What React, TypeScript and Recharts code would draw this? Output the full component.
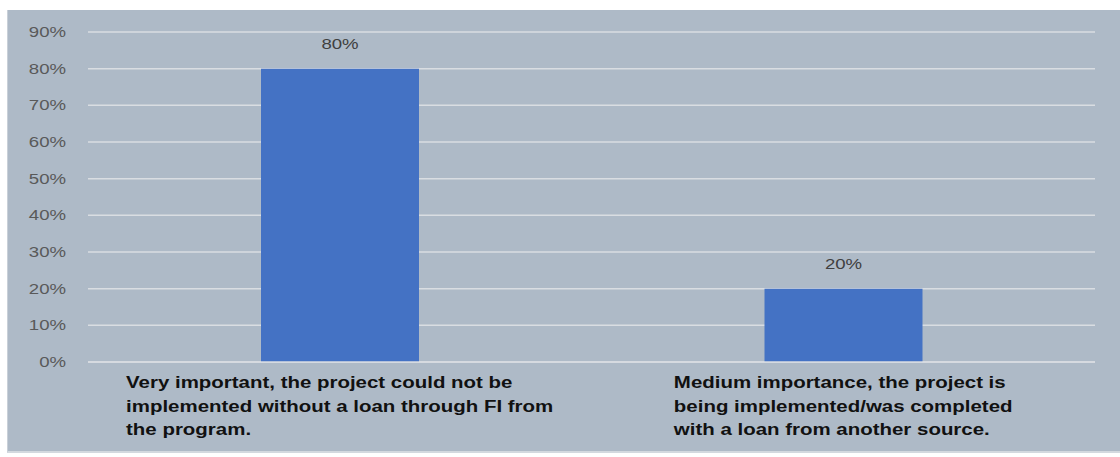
import React from 'react';
import { BarChart, Bar, XAxis, YAxis, CartesianGrid, LabelList } from 'recharts';

const categories: string[] = [
  'Very important, the project could not be|implemented without a loan through FI from|the program.',
  'Medium importance, the project is|being implemented/was completed|with a loan from another source.',
];
const shares: number[] = [0.8, 0.2];
const yTicks: number[] = [0, 0.1, 0.2, 0.3, 0.4, 0.5, 0.6, 0.7, 0.8, 0.9];

const data = categories.map((c, i) => ({ name: c, value: shares[i] }));

const FONT_FAMILY = '"Liberation Sans", Arial, sans-serif';
const LABEL_FONT = `bold 16.5px ${FONT_FAMILY}`;
const STRETCH = 1.24;

function measure(text: string): number {
  if (typeof document === 'undefined') return text.length * 9;
  const c = document.createElement('canvas');
  const ctx = c.getContext('2d');
  if (!ctx) return text.length * 9;
  ctx.font = LABEL_FONT;
  return ctx.measureText(text).width;
}

const CategoryTick = (props: any) => {
  const { x, y, payload } = props;
  const lines: string[] = String(payload.value).split('|');
  const w = Math.max(...lines.map(measure)) * STRETCH;
  const left = x - w / 2;
  return (
    <g>
      {lines.map((l, i) => (
        <text
          key={i}
          transform={`translate(${left},${y + 26 + i * 23.5}) scale(${STRETCH},1)`}
          x={0}
          y={0}
          textAnchor="start"
          fill="#111111"
          style={{ font: LABEL_FONT }}
        >
          {l}
        </text>
      ))}
    </g>
  );
};

const pct = (v: number) => `${Math.round(v * 100)}%`;

const ValueTick = (props: any) => {
  const { x, y, payload } = props;
  return (
    <text
      transform={`translate(${x},${y + 5}) scale(1.2,1)`}
      x={0}
      y={0}
      textAnchor="end"
      fill="#595959"
      style={{ fontSize: 15.5, fontFamily: FONT_FAMILY }}
    >
      {pct(payload.value)}
    </text>
  );
};

const TopLabel = (props: any) => {
  const { x, y, width, value } = props;
  const cx = Number(x) + Number(width) / 2;
  return (
    <text
      transform={`translate(${cx},${Number(y) - 20}) scale(1.2,1)`}
      x={0}
      y={0}
      textAnchor="middle"
      fill="#404040"
      style={{ fontSize: 15.5, fontFamily: FONT_FAMILY }}
    >
      {pct(Number(value))}
    </text>
  );
};

export default function App() {
  return (
    <div style={{ position: 'absolute', left: 0, top: 0, width: 1120, height: 457, background: '#ffffff' }}>
      <div
        style={{
          position: 'absolute',
          left: 7,
          top: 10,
          width: 1113,
          height: 441,
          background: '#AEBAC7',
          borderLeft: '1px solid #C9D0D8',
          borderBottom: '2px solid #D3D9DF',
        }}
      >
        <BarChart
          width={1113}
          height={441}
          data={data}
          margin={{ top: 22, right: 26, bottom: 0, left: 0 }}
          barCategoryGap={0}
        >
          <CartesianGrid vertical={false} stroke="#D9DDE2" strokeWidth={1.5} />
          <XAxis
            dataKey="name"
            axisLine={{ stroke: '#D9DDE2', strokeWidth: 1.5 }}
            tickLine={false}
            tickSize={0}
            tickMargin={0}
            height={89}
            interval={0}
            tick={<CategoryTick />}
          />
          <YAxis
            domain={[0, 0.9]}
            ticks={yTicks}
            axisLine={false}
            tickLine={false}
            tickSize={0}
            tickMargin={22}
            width={80}
            tick={<ValueTick />}
          />
          <Bar dataKey="value" fill="#4472C4" barSize={158} isAnimationActive={false}>
            <LabelList dataKey="value" content={<TopLabel />} />
          </Bar>
        </BarChart>
      </div>
    </div>
  );
}
